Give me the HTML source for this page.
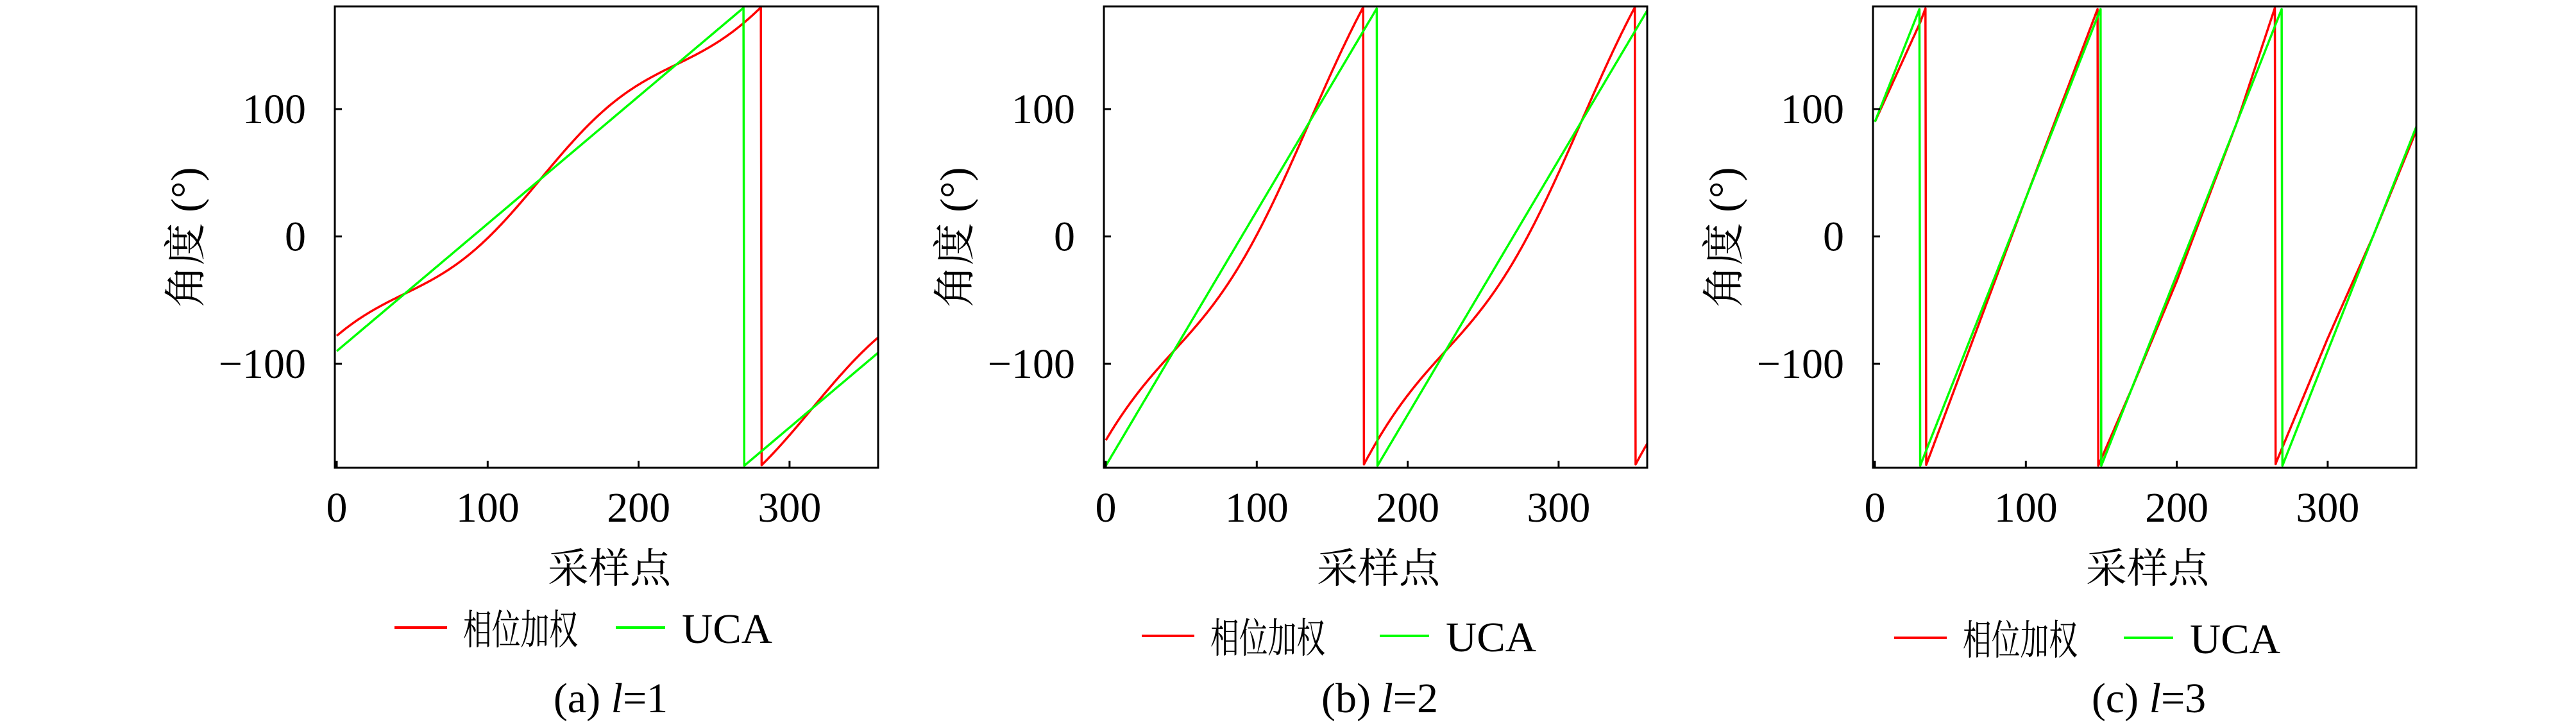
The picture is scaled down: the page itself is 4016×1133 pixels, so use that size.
<!DOCTYPE html>
<html><head><meta charset="utf-8">
<style>
html,body{margin:0;padding:0;background:#fff;}
svg{display:block;}
</style></head>
<body>
<svg id="s" width="4016" height="1133" xmlns="http://www.w3.org/2000/svg"></svg>
<script>
const S=document.getElementById('s');
const NS='http://www.w3.org/2000/svg';
const FF="'Liberation Serif', 'DejaVu Serif', 'Noto Serif CJK SC', serif";
function el(t,a,txt){const e=document.createElementNS(NS,t);for(const k in a)e.setAttribute(k,a[k]);if(t==='text'){e.setAttribute('font-family',FF);e.style.fontFamily=FF;e.setAttribute('fill','#000');}if(txt!==undefined)e.textContent=txt;S.appendChild(e);return e;}
const W=847,TOP=10,BOT=729;
function wrap(v){while(v>=180)v-=360;while(v<-180)v+=360;return v;}
function interp(pts,x){for(let i=0;i<pts.length-1;i++){if(x<=pts[i+1][0]){const t=(x-pts[i][0])/(pts[i+1][0]-pts[i][0]);return pts[i][1]+t*(pts[i+1][1]-pts[i][1]);}}return pts[pts.length-1][1];}
const dC=[[0,0],[30,-12],[100,0],[148,6],[170,0],[200,-5],[240,0],[266,15],[300,10],[330,0],[358,-3]];
const panels=[
 {L:522,lab:'(a) ',n:'1',
  g:x=>-90+x, r:x=>-90+x-12*Math.sin(2*Math.PI*(x-45)/180),
  leg:{y:978,r1:615,r2:697,t1:722,g1:960,g2:1037,t2:1063}},
 {L:1721,lab:'(b) ',n:'2',
  g:x=>-180+2*x, r:x=>-180+2*x-20*Math.sin(2*Math.PI*(x-45)/180),
  leg:{y:991,r1:1780,r2:1862,t1:1887,g1:2151,g2:2228,t2:2254}},
 {L:2920,lab:'(c) ',n:'3',
  g:x=>90+3*x, r:x=>90+3*x+interp(dC,x),
  leg:{y:994,r1:2953,r2:3035,t1:3060,g1:3311,g2:3388,t2:3414}}
];
panels.forEach((p,i)=>{
 const L=p.L;
 const X=x=>L+3+2.353*x, Y=y=>368.5-1.985*y;
 const cp=el('clipPath',{id:'c'+i});
 const r=document.createElementNS(NS,'rect');r.setAttribute('x',L);r.setAttribute('y',TOP);r.setAttribute('width',W);r.setAttribute('height',BOT-TOP);cp.appendChild(r);
 [[p.r,'#ff0000'],[p.g,'#00ff00']].forEach(([f,c])=>{
   let d='';
   for(let x=0;x<=359;x+=0.5){const v=wrap(f(x));d+=(x===0?'M':'L')+X(x).toFixed(1)+','+Y(v).toFixed(1);}
   el('path',{d:d,fill:'none',stroke:c,'stroke-width':3.5,'clip-path':'url(#c'+i+')','stroke-linejoin':'round'});
 });
 el('rect',{x:L,y:TOP,width:W,height:BOT-TOP,fill:'none',stroke:'#000','stroke-width':3});
 [0,100,200,300].forEach(t=>{
   el('line',{x1:X(t),x2:X(t),y1:BOT,y2:BOT-11,stroke:'#000','stroke-width':3});
   el('text',{x:X(t),y:813,'font-size':66,'text-anchor':'middle'},String(t));
 });
 [[100,'100'],[0,'0'],[-100,'\u2212100']].forEach(([t,s])=>{
   el('line',{x1:L,x2:L+11,y1:Y(t),y2:Y(t),stroke:'#000','stroke-width':3});
   el('text',{x:L-45,y:Y(t)+22,'font-size':66,'text-anchor':'end'},s);
 });
 el('text',{x:0,y:0,'font-size':66,'text-anchor':'middle',transform:`translate(${L-210},370) rotate(-90)`},'角度 (°)');
 el('text',{x:L+428,y:908,'font-size':64,'text-anchor':'middle'},'采样点');
 const g=p.leg;
 el('line',{x1:g.r1,x2:g.r2,y1:g.y,y2:g.y,stroke:'#ff0000','stroke-width':4});
 el('text',{x:g.t1,y:g.y+26,'font-size':64,textLength:179,lengthAdjust:'spacingAndGlyphs'},'相位加权');
 el('line',{x1:g.g1,x2:g.g2,y1:g.y,y2:g.y,stroke:'#00ff00','stroke-width':4});
 el('text',{x:g.t2,y:g.y+24,'font-size':66,textLength:141,lengthAdjust:'spacingAndGlyphs'},'UCA');
 const c=el('text',{x:L+430,y:1110,'font-size':66,'text-anchor':'middle'});
 c.appendChild(document.createTextNode(p.lab));
 const ts=document.createElementNS(NS,'tspan');ts.setAttribute('font-style','italic');ts.textContent='l';c.appendChild(ts);
 c.appendChild(document.createTextNode('='+p.n));
});
</script>
</body></html>
